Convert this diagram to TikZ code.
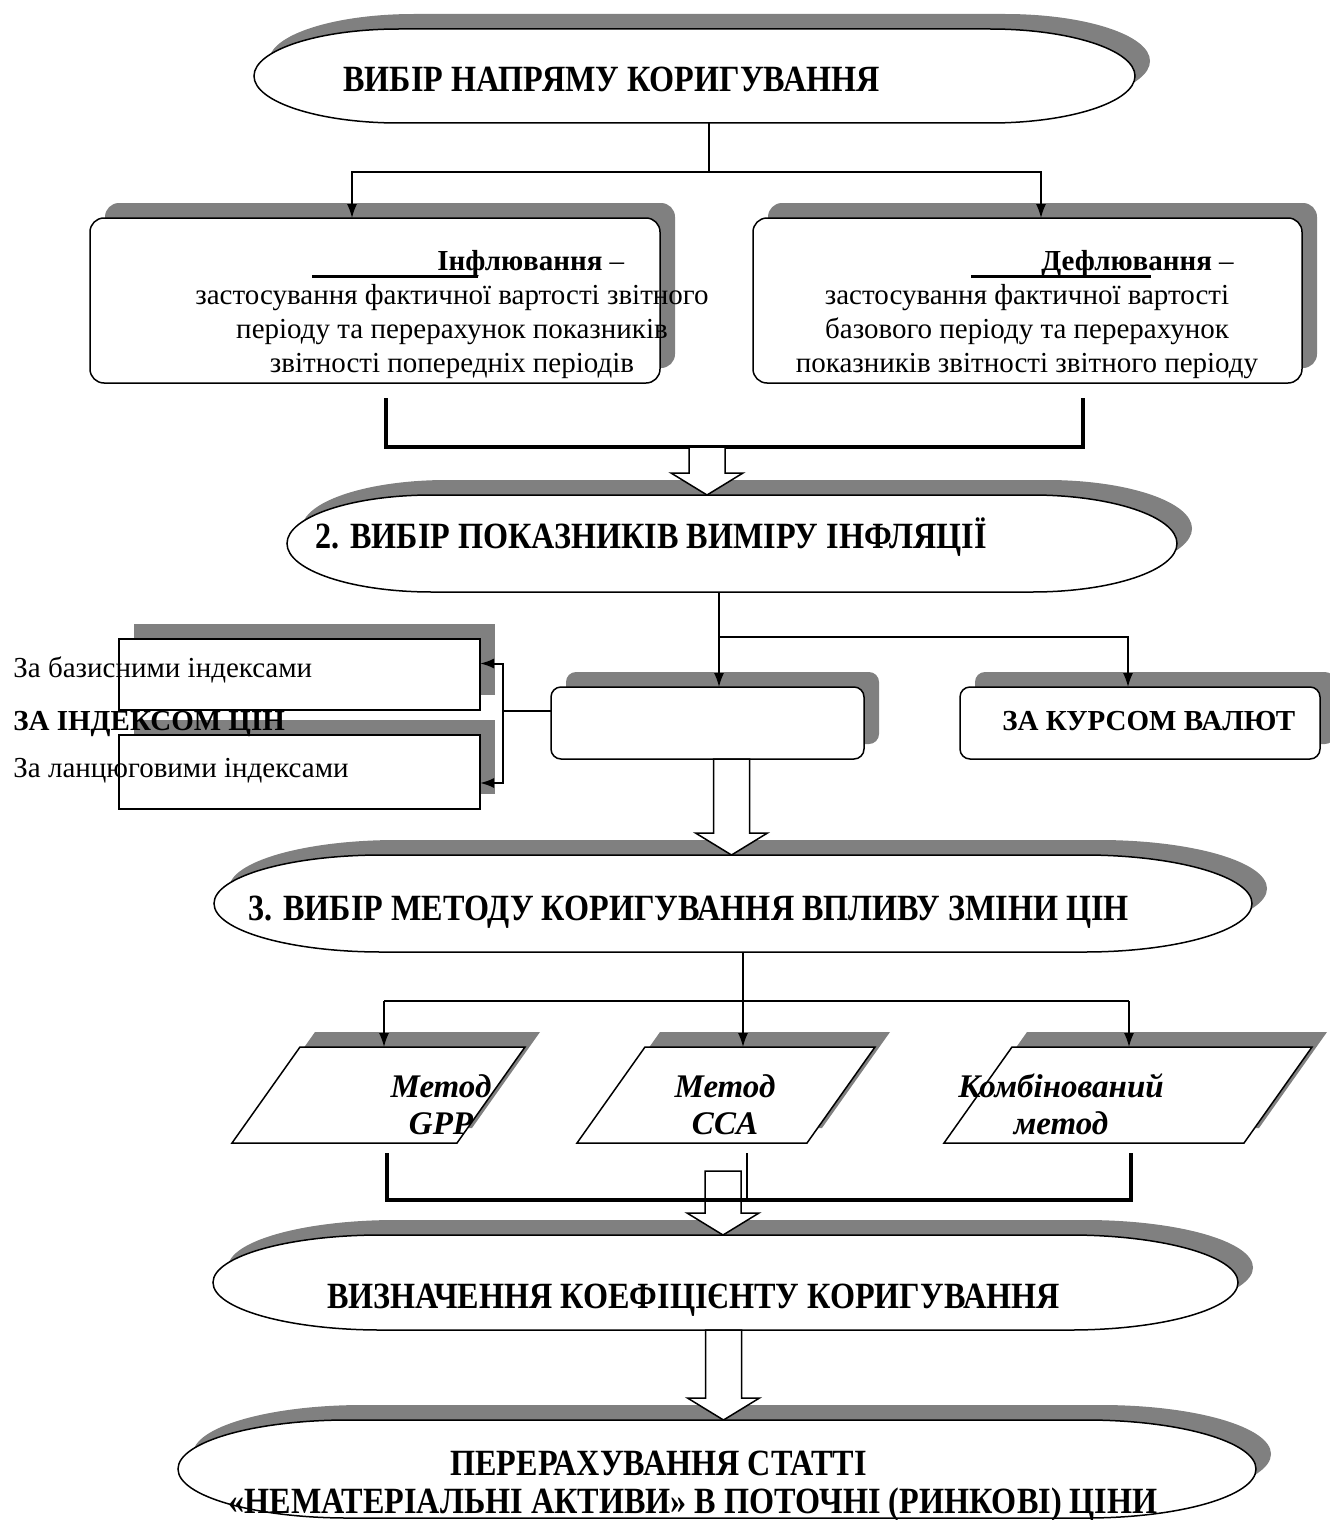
\documentclass[tikz,border=0pt]{standalone}
\usepackage{fontspec}
\setmainfont{Liberation Serif}
\newfontfamily\titlefont[FakeStretch=0.87]{Liberation Serif}
\usetikzlibrary{arrows.meta, calc, shadows}
\definecolor{shadowgray}{HTML}{808080}

% stadium outline round a named node, #2 = cap radius
\newcommand{\stadium}[2]{%
  \draw[termline] let \p1=($(#1.north)-(#1.south)$) in
    ([xshift=#2]#1.north west) -- ([xshift=-#2]#1.north east)
    arc[start angle=90, end angle=-90, x radius=#2, y radius=0.5*\y1]
    -- ([xshift=#2]#1.south west)
    arc[start angle=270, end angle=90, x radius=#2, y radius=0.5*\y1] -- cycle;
}
% slanted box inside a named node, #2 = slant
\newcommand{\slantbox}[2]{%
  \draw[termline] ([xshift=#2]#1.north west) -- (#1.north east)
    -- ([xshift=-#2]#1.south east) -- (#1.south west) -- cycle;
}
% hollow block arrow from #1 down to the level of #2
\newcommand{\hollowarrow}[2]{%
  \draw[hollow] let \p1=(#1), \p2=(#2) in
    (\x1-9pt,\y1) -- (\x1-9pt,\y2+11pt) -- (\x1-18pt,\y2+11pt) -- (\x1,\y2)
    -- (\x1+18pt,\y2+11pt) -- (\x1+9pt,\y2+11pt) -- (\x1+9pt,\y1) -- cycle;
}

\begin{document}
\begin{tikzpicture}[
    x=0.5pt, y=-0.5pt,
    >={Latex[length=7pt,width=5pt]}, % default arrow tip
    thinline/.style={line width=0.75pt},
    thickline/.style={line width=1.6pt},
    boxshadow/.style={drop shadow={shadow xshift=7.5pt, shadow yshift=7.5pt, opacity=1, fill=shadowgray}},
    termline/.style={draw, fill=white, line width=0.75pt, boxshadow},
    term/.style={inner sep=0pt, outer sep=0pt},
    roundbox/.style={draw, fill=white, line width=0.75pt, rounded corners=7pt, inner sep=0pt, outer sep=0pt, boxshadow},
    flatbox/.style={draw, fill=white, line width=0.75pt, inner sep=0pt, outer sep=0pt, boxshadow},
    hollow/.style={draw, fill=white, line width=0.75pt},
    titletext/.style={font=\titlefont\bfseries\fontsize{18.5}{21}\selectfont, inner sep=0pt, anchor=base west},
    bodytext/.style={font=\fontsize{14.5}{17}\selectfont, align=center, inner sep=0pt, anchor=base},
    plaintext/.style={font=\fontsize{14.5}{18}\selectfont, inner sep=0pt, anchor=base west},
    methtext/.style={font=\bfseries\itshape\fontsize{16.5}{18.5}\selectfont, align=center, inner sep=0pt, anchor=base}
]
\useasboundingbox (0,0) rectangle (1329,1520);

% Terminal shapes
\node[term, minimum width=440.5pt, minimum height=47pt] (e1) at (694.5,76) {};
\stadium{e1}{72.5pt}
\node[titletext] (e1t) at (343,92) {ВИБІР НАПРЯМУ КОРИГУВАННЯ};

\node[term, minimum width=445pt, minimum height=48.5pt] (e2) at (732,543.5) {};
\stadium{e2}{72.5pt}
\node[titletext] (e2t) at (315,548) {2. ВИБІР ПОКАЗНИКІВ ВИМІРУ ІНФЛЯЦІЇ};

\node[term, minimum width=519pt, minimum height=48.5pt] (e3) at (733,903.5) {};
\stadium{e3}{84pt}
\node[titletext] (e3t) at (248,920) {3. ВИБІР МЕТОДУ КОРИГУВАННЯ ВПЛИВУ ЗМІНИ ЦІН};

\node[term, minimum width=512.5pt, minimum height=47.5pt] (e4) at (725.5,1282.5) {};
\stadium{e4}{84pt}
\node[titletext] (e4t) at (327,1308) {ВИЗНАЧЕННЯ КОЕФІЦІЄНТУ КОРИГУВАННЯ};

\node[term, minimum width=539pt, minimum height=49pt] (e5) at (717,1469) {};
\stadium{e5}{85pt}
\node[titletext] (e5a) at (450,1475) {ПЕРЕРАХУВАННЯ СТАТТІ};
\node[titletext] (e5b) at (228,1513) {«НЕМАТЕРІАЛЬНІ АКТИВИ» В ПОТОЧНІ (РИНКОВІ) ЦІНИ};

% Inflating / deflating
\node[roundbox, minimum width=285pt, minimum height=82.5pt] (inf) at (375,300.5) {};
\node[roundbox, minimum width=274.5pt, minimum height=82.5pt] (def) at (1027.5,300.5) {};
\node[plaintext] (infh) at (312,270) {\rule[-4pt]{83pt}{1.5pt}\kern-20.5pt\textbf{Інфлювання} –};
\node[bodytext] (infb) at (452,372) {застосування фактичної вартості звітного\\періоду та перерахунок показників\\звітності попередніх періодів};
\node[plaintext] (defh) at (971,270) {\rule[-4pt]{90pt}{1.5pt}\kern-55pt\textbf{Дефлювання} –};
\node[bodytext] (defb) at (1027,372) {застосування фактичної вартості\\базового періоду та перерахунок\\показників звітності звітного періоду};

% Measures of inflation
\node[flatbox, minimum width=180.5pt, minimum height=35.5pt] (bas) at (299.5,674.5) {};
\node[flatbox, minimum width=180.5pt, minimum height=37pt] (lan) at (299.5,772) {};
\node[roundbox, rounded corners=5pt, minimum width=156.5pt, minimum height=36pt] (mid) at (707.5,723) {};
\node[roundbox, rounded corners=5pt, minimum width=180pt, minimum height=36pt] (cur) at (1140,723) {};
\node[plaintext] (bast) at (13,677) {За базисними індексами};
\node[plaintext, font=\bfseries\fontsize{14.5}{18}\selectfont] (idxt) at (13,730) {ЗА ІНДЕКСОМ ЦІН};
\node[plaintext] (lant) at (13,777) {За ланцюговими індексами};
\node[plaintext, font=\bfseries\fontsize{14.5}{18}\selectfont] (curt) at (1002,730) {ЗА КУРСОМ ВАЛЮТ};

% Methods
\node[term, minimum width=146.5pt, minimum height=48pt] (p1) at (378.5,1095) {};
\slantbox{p1}{34pt}
\node[term, minimum width=149pt, minimum height=48pt] (p2) at (726,1095) {};
\slantbox{p2}{34pt}
\node[term, minimum width=184pt, minimum height=48pt] (p3) at (1128,1095) {};
\slantbox{p3}{34pt}
\node[methtext] (p1t) at (441,1134) {Метод\\GPP};
\node[methtext] (p2t) at (725,1134) {Метод\\CCA};
\node[methtext] (p3t) at (1061,1134) {Комбінований\\метод};

% Connectors
\coordinate (j0) at (709,172);
\draw[thinline] (e1.south -| j0) -- (j0);
\draw[thinline, ->] (j0) -| ([xshift=-11.5pt]inf.north);
\draw[thinline, ->] (j0) -| ([xshift=6.75pt]def.north);

\coordinate (l1) at (386,398);
\coordinate (l2) at (1083,398);
\coordinate (j1) at (707,447);
\draw[thickline] (l1) |- (j1) -| (l2);
\hollowarrow{j1}{e2.north}

\coordinate (j2) at (719,637);
\draw[thinline, ->] (e2.south -| j2) -- (j2 |- mid.north);
\draw[thinline, ->] (j2) -| ([xshift=-6pt]cur.north);

\coordinate (j3) at (503,711);
\draw[thinline] ([yshift=6pt]mid.west) -- (j3);
\draw[line width=1pt, ->] (j3) |- ([yshift=5.5pt]bas.east);
\draw[line width=1pt, ->] (j3) |- ([yshift=-5.5pt]lan.east);
\hollowarrow{[xshift=12pt]mid.south}{e3.north}

\coordinate (j5) at (743,1001);
\coordinate (m1) at (384,1001);
\coordinate (m3) at (1129,1001);
\draw[thinline] (e3.south -| j5) -- (j5);
\draw[thinline] (m1) -- (m3);
\draw[thinline, ->] (m1) -- (m1 |- p1.north);
\draw[thinline, ->] (j5) -- (j5 |- p2.north);
\draw[thinline, ->] (m3) -- (m3 |- p3.north);

\coordinate (k1) at (387,1153);
\coordinate (k2) at (747,1153);
\coordinate (k3) at (1131,1153);
\coordinate (j6) at (723,1200);
\coordinate (a3) at (723,1171);
\hollowarrow{a3}{e4.north}
\draw[thickline] (k1) |- (j6) -| (k3);
\draw[thinline] (k2) -- (k2 |- j6);

\hollowarrow{[xshift=-1pt]e4.south}{e5.north}
\end{tikzpicture}
\end{document}
